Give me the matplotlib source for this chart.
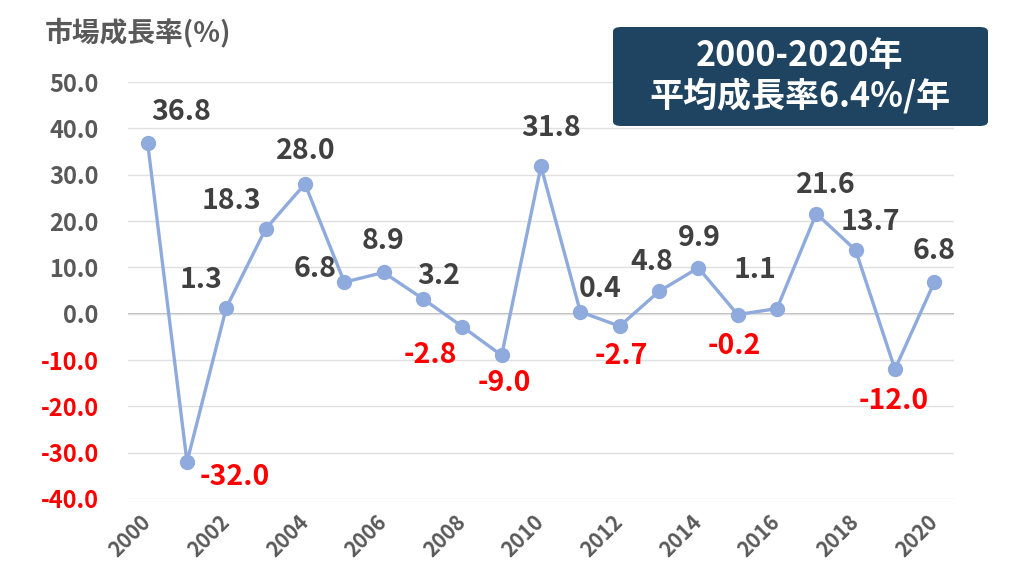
import numpy as np
import matplotlib.pyplot as plt
import matplotlib.transforms as mtransforms
from matplotlib.patches import FancyBboxPatch

plt.rcParams['font.family'] = ['Noto Sans CJK JP', 'DejaVu Sans']

years = list(range(2000, 2021))
growth = [36.8, -32.0, 1.3, 18.3, 28.0, 6.8, 8.9, 3.2, -2.8, -9.0, 31.8,
          0.4, -2.7, 4.8, 9.9, -0.2, 1.1, 21.6, 13.7, -12.0, 6.8]
yticks = [50, 40, 30, 20, 10, 0, -10, -20, -30, -40]

# label offsets from the point, in pixels (dx right, dy up)
offsets = [(33, 31), (48, -15), (-25, 28), (-34, 28), (1, 33), (-29, 13),
           (-1, 31), (16, 23), (-32, -28), (3, -28), (10, 38), (20, 23),
           (2, -30), (-7, 29), (1, 30), (-3, -31), (-22, 39), (10, 29),
           (15, 28), (-1, -32), (0, 31)]

gray = '#595959'
red = '#FF0000'
line_c = '#8FAADC'

fig = plt.figure(figsize=(10.24, 5.76), dpi=100)
ax = fig.add_axes([0.125, 0.1337, 0.8066, 0.7239])

x = np.arange(len(years))
ax.plot(x, growth, '-o', color=line_c, lw=2.4, ms=10, zorder=3)

for i, v in enumerate(growth):
    dx, dy = offsets[i]
    ax.annotate(f'{v:.1f}', (x[i], v), xytext=(dx * 0.72, dy * 0.72),
                textcoords='offset points', ha='center', va='center',
                fontsize=20.5, fontweight='bold',
                color=red if v < 0 else '#404040')

ax.set_xlim(-0.5, len(years) - 0.5)
ax.set_ylim(-40, 50)
ax.set_yticks(yticks)
ax.set_yticklabels([f'{t:.1f}' for t in yticks], fontsize=17, fontweight='bold')
for lab, t in zip(ax.get_yticklabels(), yticks):
    lab.set_color(red if t < 0 else gray)

ax.set_xticks(x[::2])
ax.set_xticklabels([str(y) for y in years[::2]], rotation=45, ha='right', va='center',
                   rotation_mode='anchor', fontsize=15, fontweight='bold', color=gray)
shift = mtransforms.ScaledTranslation(0.07, 0, fig.dpi_scale_trans)
for lab in ax.get_xticklabels():
    lab.set_transform(lab.get_transform() + shift)

ax.grid(axis='y', color='#E0E0E0', lw=1)
ax.axhline(0, color='#B0B0B0', lw=1.2, zorder=1)
ax.tick_params(axis='y', length=0, pad=21)
ax.tick_params(axis='x', length=0, pad=14)
for s in ax.spines.values():
    s.set_visible(False)

fig.text(0.044, 0.943, '市場成長率(%)', fontsize=20, fontweight='bold', color=gray,
         ha='left', va='center')

box = FancyBboxPatch((613 / 1024, 1 - 126 / 576), 375 / 1024, 99 / 576,
                     boxstyle='round,pad=0,rounding_size=0.008', transform=fig.transFigure,
                     fc='#1E4461', ec='none')
fig.patches.append(box)
fig.text(800 / 1024, 1 - 76 / 576, '2000-2020年\n平均成長率6.4%/年', fontsize=24.5,
         fontweight='bold', color='white', ha='center', va='center', linespacing=1.15)

fig.savefig('out.png', dpi=100)
